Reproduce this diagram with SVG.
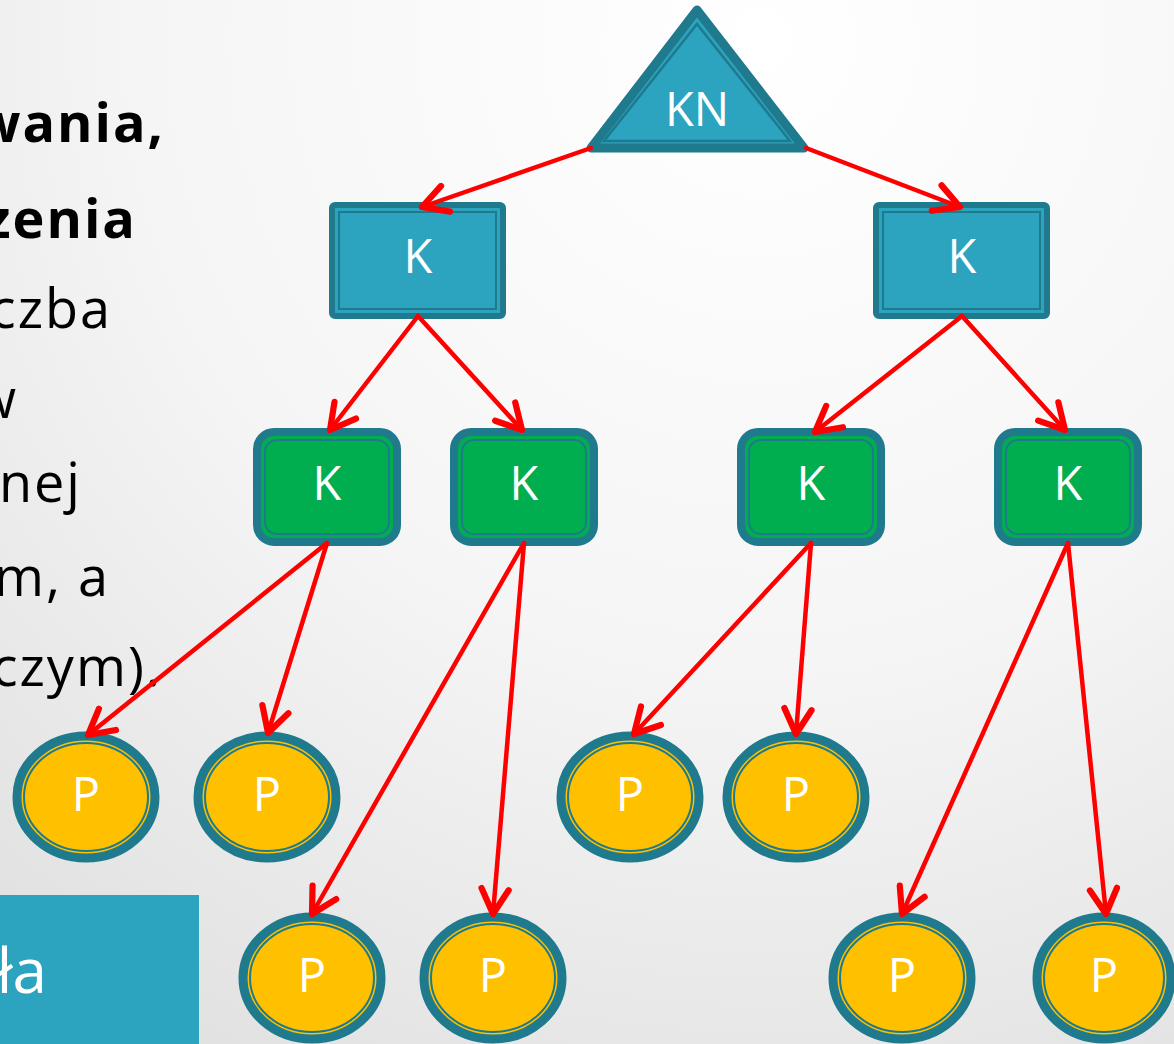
<svg xmlns="http://www.w3.org/2000/svg" width="1174" height="1044" viewBox="0 0 1174 1044">
<defs>
<radialGradient id="bg" cx="760" cy="40" r="1250" gradientUnits="userSpaceOnUse">
<stop offset="0" stop-color="#ffffff"/>
<stop offset="0.5" stop-color="#f5f5f5"/>
<stop offset="1" stop-color="#dedede"/>
</radialGradient>
<marker id="ah" markerUnits="userSpaceOnUse" markerWidth="34" markerHeight="34" viewBox="0 0 30 30" refX="26" refY="15" orient="auto">
<path d="M4,3 L26,15 L4,27" fill="none" stroke="#ff0000" stroke-width="5.5" stroke-linecap="round" stroke-linejoin="round"/>
</marker>
<style>
.txt{font-family:"Open Sans","DejaVu Sans",sans-serif;fill:#000;font-size:54px;letter-spacing:2px}
.b{font-weight:bold}
.lbl{font-family:"Open Sans","DejaVu Sans",sans-serif;fill:#fff;font-size:47px;text-anchor:middle}
.tri{fill:#2ca3bf;stroke:#1e7a8c;stroke-width:9;stroke-linejoin:round}
.tri2{fill:none;stroke:#1e7a8c;stroke-width:2.5}
.blue{fill:#2ca3bf;stroke:#1e7a8c;stroke-width:6}
.blue2{fill:none;stroke:#1e7a8c;stroke-width:2}
.green{fill:#00ae4f;stroke:#1e7a8c;stroke-width:8}
.green2{fill:none;stroke:#1e7a8c;stroke-width:2}
.p{fill:#ffc000;stroke:#1e7a8c;stroke-width:9}
.p2{fill:none;stroke:#1e7a8c;stroke-width:2}
.con line{stroke:#ff0000;stroke-width:4.5;marker-end:url(#ah);stroke-linecap:round}
</style>
</defs>
<rect width="1174" height="1044" fill="url(#bg)"/>

<g id="text-left">
<text class="txt b" x="165" y="142" text-anchor="end">owania,</text>
<text class="txt b" x="137" y="238" text-anchor="end">zenia</text>
<text class="txt" x="112" y="328" text-anchor="end">czba</text>
<text class="txt" x="18" y="418" text-anchor="end">w</text>
<text class="txt" x="82" y="502" text-anchor="end">nej</text>
<text class="txt" x="110" y="596" text-anchor="end">m, a</text>
<text class="txt" x="162" y="686" text-anchor="end">czym).</text>
</g>

<g id="title-box">
<rect x="0" y="895" width="199" height="149" fill="#2ca3bf"/>
<text x="47" y="993" text-anchor="end" font-family="Open Sans, DejaVu Sans, sans-serif" font-size="62" fill="#fff">ła</text>
</g>

<g id="kn">
<polygon class="tri" points="697,10 591,148 804,148"/>
<polygon class="tri2" points="697,24 604,141 790,141"/>
<text class="lbl" x="697" y="126">KN</text>
</g>

<g id="k-blue-left">
<rect class="blue" x="332" y="205" width="171" height="111" rx="3"/>
<rect class="blue2" x="339" y="212" width="157" height="97"/>
<text class="lbl" x="418" y="273">K</text>
</g>
<g id="k-blue-right">
<rect class="blue" x="876" y="205" width="171" height="111" rx="3"/>
<rect class="blue2" x="883" y="212" width="157" height="97"/>
<text class="lbl" x="962" y="273">K</text>
</g>

<g id="k-green-1">
<rect class="green" x="257" y="432" width="140" height="110" rx="17"/>
<rect class="green2" x="265" y="440" width="124" height="94" rx="12"/>
<text class="lbl" x="327" y="500">K</text>
</g>
<g id="k-green-2">
<rect class="green" x="454" y="432" width="140" height="110" rx="17"/>
<rect class="green2" x="462" y="440" width="124" height="94" rx="12"/>
<text class="lbl" x="524" y="500">K</text>
</g>
<g id="k-green-3">
<rect class="green" x="741" y="432" width="140" height="110" rx="17"/>
<rect class="green2" x="749" y="440" width="124" height="94" rx="12"/>
<text class="lbl" x="811" y="500">K</text>
</g>
<g id="k-green-4">
<rect class="green" x="998" y="432" width="140" height="110" rx="17"/>
<rect class="green2" x="1006" y="440" width="124" height="94" rx="12"/>
<text class="lbl" x="1068" y="500">K</text>
</g>

<g id="p-1">
<ellipse class="p" cx="86" cy="797" rx="69" ry="61"/>
<ellipse class="p2" cx="86" cy="797" rx="62" ry="54"/>
<text class="lbl" x="86" y="811">P</text>
</g>
<g id="p-2">
<ellipse class="p" cx="267" cy="797" rx="69" ry="61"/>
<ellipse class="p2" cx="267" cy="797" rx="62" ry="54"/>
<text class="lbl" x="267" y="811">P</text>
</g>
<g id="p-3">
<ellipse class="p" cx="630" cy="797" rx="69" ry="61"/>
<ellipse class="p2" cx="630" cy="797" rx="62" ry="54"/>
<text class="lbl" x="630" y="811">P</text>
</g>
<g id="p-4">
<ellipse class="p" cx="796" cy="797" rx="69" ry="61"/>
<ellipse class="p2" cx="796" cy="797" rx="62" ry="54"/>
<text class="lbl" x="796" y="811">P</text>
</g>
<g id="p-5">
<ellipse class="p" cx="312" cy="978" rx="69" ry="61"/>
<ellipse class="p2" cx="312" cy="978" rx="62" ry="54"/>
<text class="lbl" x="312" y="992">P</text>
</g>
<g id="p-6">
<ellipse class="p" cx="493" cy="978" rx="69" ry="61"/>
<ellipse class="p2" cx="493" cy="978" rx="62" ry="54"/>
<text class="lbl" x="493" y="992">P</text>
</g>
<g id="p-7">
<ellipse class="p" cx="902" cy="978" rx="69" ry="61"/>
<ellipse class="p2" cx="902" cy="978" rx="62" ry="54"/>
<text class="lbl" x="902" y="992">P</text>
</g>
<g id="p-8">
<ellipse class="p" cx="1104" cy="978" rx="67" ry="61"/>
<ellipse class="p2" cx="1104" cy="978" rx="60" ry="54"/>
<text class="lbl" x="1104" y="992">P</text>
</g>

<g id="connectors" class="con">
<line x1="591" y1="148" x2="422" y2="207"/>
<line x1="806" y1="148" x2="960" y2="207"/>
<line x1="418" y1="316" x2="330" y2="430"/>
<line x1="418" y1="316" x2="522" y2="430"/>
<line x1="962" y1="316" x2="815" y2="432"/>
<line x1="962" y1="316" x2="1065" y2="430"/>
<line x1="327" y1="543" x2="88" y2="735"/>
<line x1="327" y1="543" x2="268" y2="733"/>
<line x1="524" y1="543" x2="312" y2="914"/>
<line x1="524" y1="543" x2="493" y2="914"/>
<line x1="811" y1="543" x2="634" y2="734"/>
<line x1="811" y1="543" x2="796" y2="734"/>
<line x1="1068" y1="543" x2="902" y2="914"/>
<line x1="1068" y1="543" x2="1106" y2="914"/>
</g>
</svg>
